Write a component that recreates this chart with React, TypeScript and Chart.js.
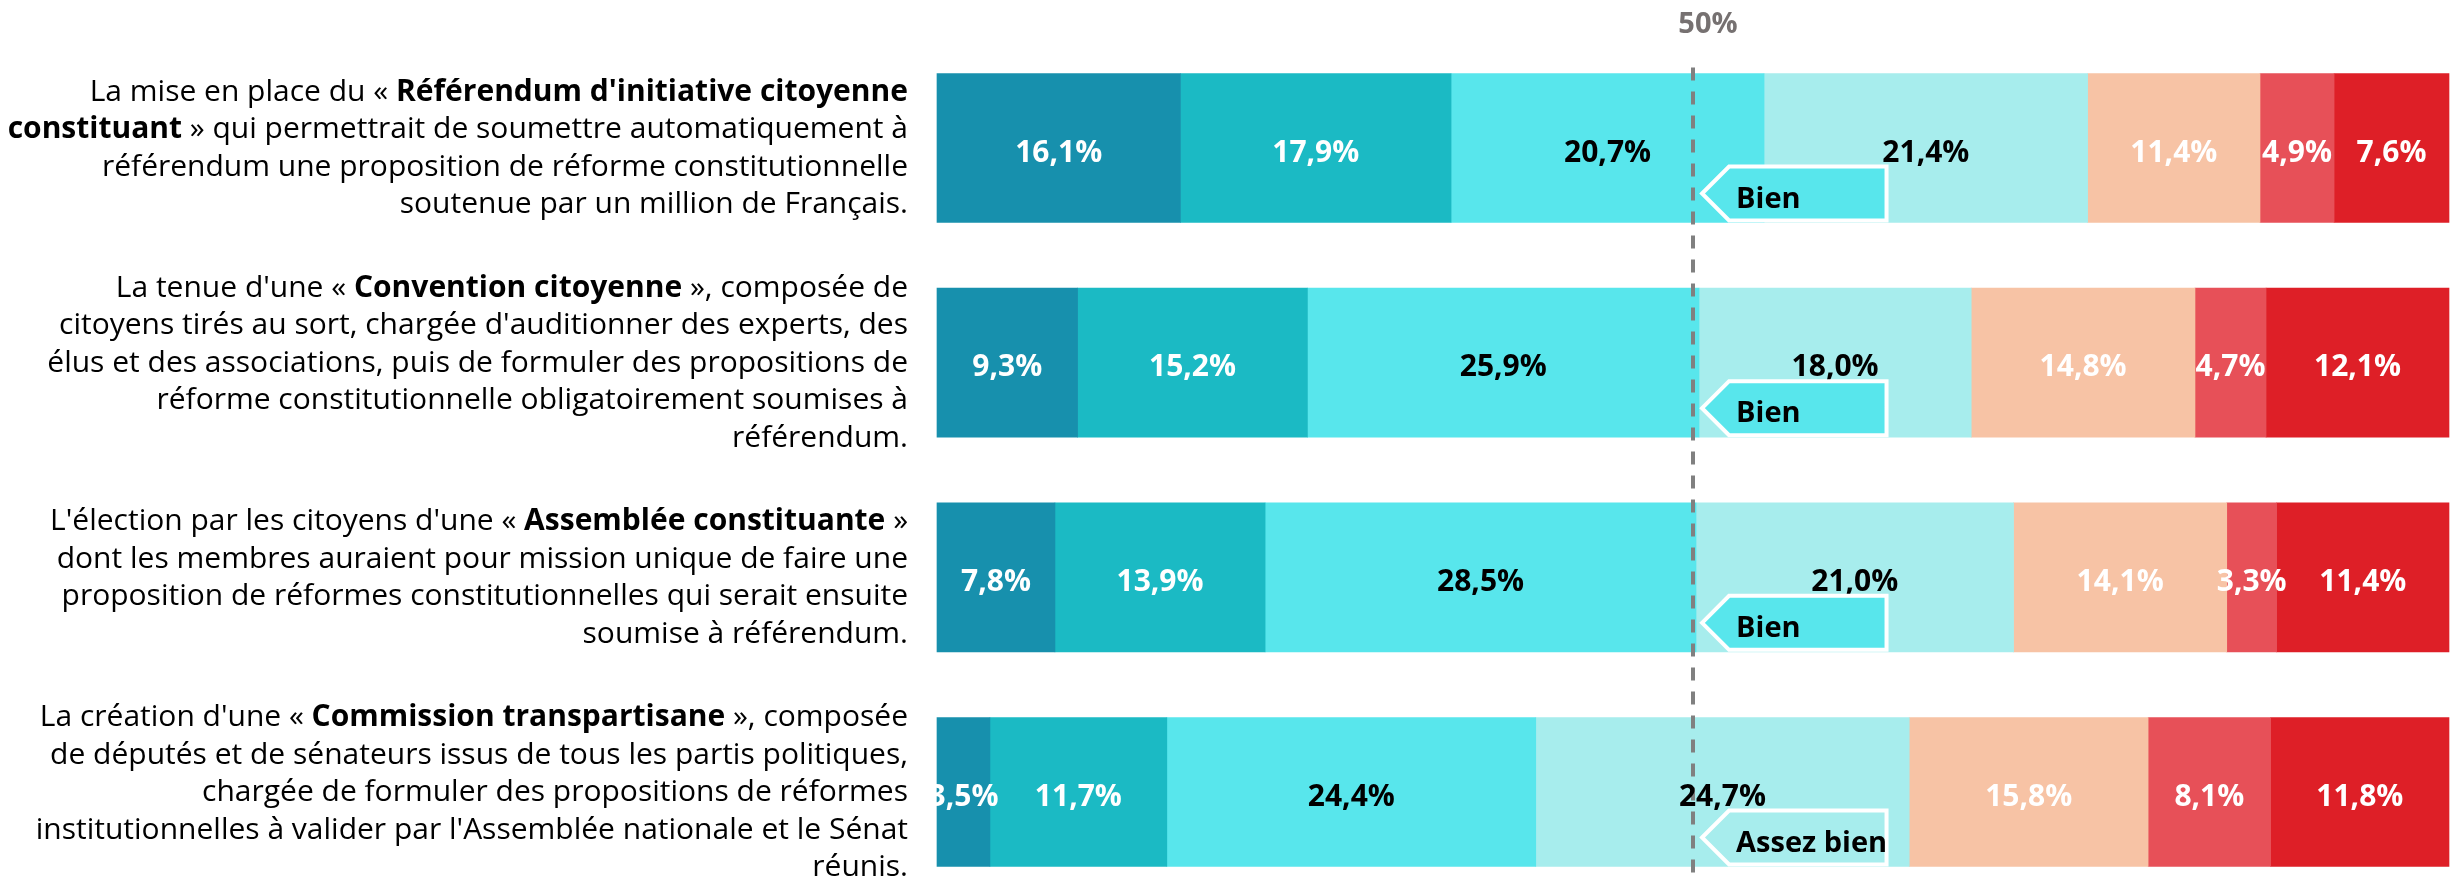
import React, { useEffect, useRef } from "react";
import { Chart, registerables } from "chart.js";

Chart.register(...registerables);

// ---- Data ----
const questionLines: string[][] = [
  [
    "La mise en place du « **Référendum d'initiative citoyenne**",
    "**constituant** » qui permettrait de soumettre automatiquement à",
    "référendum une proposition de réforme constitutionnelle",
    "soutenue par un million de Français.",
  ],
  [
    "La tenue d'une « **Convention citoyenne** », composée de",
    "citoyens tirés au sort, chargée d'auditionner des experts, des",
    "élus et des associations, puis de formuler des propositions de",
    "réforme constitutionnelle obligatoirement soumises à",
    "référendum.",
  ],
  [
    "L'élection par les citoyens d'une « **Assemblée constituante** »",
    "dont les membres auraient pour mission unique de faire une",
    "proposition de réformes constitutionnelles qui serait ensuite",
    "soumise à référendum.",
  ],
  [
    "La création d'une « **Commission transpartisane** », composée",
    "de députés et de sénateurs issus de tous les partis politiques,",
    "chargée de formuler des propositions de réformes",
    "institutionnelles à valider par l'Assemblée nationale et le Sénat",
    "réunis.",
  ],
];
const categories = ["RIC constituant", "Convention citoyenne", "Assemblée constituante", "Commission transpartisane"];

const gradeLabels = ["Excellent", "Très bien", "Bien", "Assez bien", "Passable", "Insuffisant", "À rejeter"];
const excellent = [16.1, 9.3, 7.8, 3.5];
const tresBien = [17.9, 15.2, 13.9, 11.7];
const bien = [20.7, 25.9, 28.5, 24.4];
const assezBien = [21.4, 18.0, 21.0, 24.7];
const passable = [11.4, 14.8, 14.1, 15.8];
const insuffisant = [4.9, 4.7, 3.3, 8.1];
const aRejeter = [7.6, 12.1, 11.4, 11.8];
const medianValue = 50;
const medianLabel = "50%";

// ---- Styles ----
const gradeColors = ["#1790AD", "#1BBAC4", "#58E6EC", "#A7EDED", "#F7C3A5", "#E75058", "#DE1F27"];
const gradeTextColors = ["#FFFFFF", "#FFFFFF", "#000000", "#000000", "#FFFFFF", "#FFFFFF", "#FFFFFF"];
const FONT = '"Open Sans", "Noto Sans", sans-serif';
const BAR_THICKNESS = 149;

const fmt = (v: number) => v.toFixed(1).replace(".", ",") + "%";

const drawPlugin = {
  id: "customDraw",
  afterDatasetsDraw(chart: any) {
    const ctx: CanvasRenderingContext2D = chart.ctx;
    const xs = chart.scales.x;
    const ys = chart.scales.y;
    const half = BAR_THICKNESS / 2;
    const series = chart.data.datasets.map((d: any) => d.data as number[]);

    // dashed 50% line
    const mx = xs.getPixelForValue(medianValue);
    ctx.save();
    ctx.strokeStyle = "#808080";
    ctx.lineWidth = 4;
    ctx.setLineDash([13, 11]);
    ctx.beginPath();
    ctx.moveTo(mx, ys.getPixelForValue(0) - half - 6);
    ctx.lineTo(mx, chart.height);
    ctx.stroke();
    ctx.restore();

    // 50% label
    ctx.save();
    ctx.fillStyle = "#767171";
    ctx.font = `bold 29px ${FONT}`;
    ctx.textAlign = "center";
    ctx.textBaseline = "alphabetic";
    ctx.fillText(medianLabel, mx + 15, 33);
    ctx.restore();

    // value labels
    ctx.save();
    ctx.font = `bold 30px ${FONT}`;
    ctx.textAlign = "center";
    ctx.textBaseline = "alphabetic";
    chart.data.datasets.forEach((ds: any, di: number) => {
      const meta = chart.getDatasetMeta(di);
      meta.data.forEach((el: any, i: number) => {
        const cx = (el.x + el.base) / 2;
        ctx.fillStyle = gradeTextColors[di];
        ctx.fillText(fmt(ds.data[i]), cx, el.y + 13.5);
      });
    });
    ctx.restore();

    // median grade callouts
    categories.forEach((_, i) => {
      let cum = 0;
      let gi = 0;
      for (let g = 0; g < series.length; g++) {
        cum += series[g][i];
        if (cum >= medianValue) { gi = g; break; }
      }
      const yc = ys.getPixelForValue(i);
      const bottom = yc + half - 2;
      const top = bottom - 54;
      const tipX = xs.getPixelForValue(50.6);
      const cornerX = tipX + 27;
      const rightX = xs.getPixelForValue(62.8);
      ctx.save();
      ctx.beginPath();
      ctx.moveTo(tipX, (top + bottom) / 2);
      ctx.lineTo(cornerX, top);
      ctx.lineTo(rightX, top);
      ctx.lineTo(rightX, bottom);
      ctx.lineTo(cornerX, bottom);
      ctx.closePath();
      ctx.fillStyle = gradeColors[gi];
      ctx.fill();
      ctx.strokeStyle = "#FFFFFF";
      ctx.lineWidth = 4;
      ctx.lineJoin = "miter";
      ctx.stroke();
      ctx.fillStyle = "#000000";
      ctx.font = `bold 29px ${FONT}`;
      ctx.textAlign = "left";
      ctx.textBaseline = "alphabetic";
      ctx.fillText(gradeLabels[gi], cornerX + 7, bottom - 13);
      ctx.restore();
    });

    // question labels (left)
    const rightEdge = xs.left - 29;
    const lineH = 37.5;
    const fontPx = 30;
    ctx.save();
    ctx.fillStyle = "#000000";
    ctx.textBaseline = "alphabetic";
    ctx.textAlign = "left";
    questionLines.forEach((lines, i) => {
      const yc = ys.getPixelForValue(i);
      lines.forEach((line, li) => {
        const parts = line.split("**");
        let total = 0;
        const widths = parts.map((p, pi) => {
          ctx.font = `${pi % 2 === 1 ? "bold " : ""}${fontPx}px ${FONT}`;
          const w = ctx.measureText(p).width;
          total += w;
          return w;
        });
        const base = yc + (li - (lines.length - 1) / 2) * lineH + 9;
        let x = rightEdge - total;
        parts.forEach((p, pi) => {
          ctx.font = `${pi % 2 === 1 ? "bold " : ""}${fontPx}px ${FONT}`;
          ctx.fillText(p, x, base);
          x += widths[pi];
        });
      });
    });
    ctx.restore();
  },
};

export default function App() {
  const ref = useRef<HTMLCanvasElement>(null);
  useEffect(() => {
    if (!ref.current) return;
    const seriesList = [excellent, tresBien, bien, assezBien, passable, insuffisant, aRejeter];
    const chart = new Chart(ref.current, {
      type: "bar",
      data: {
        labels: categories,
        datasets: seriesList.map((data, i) => ({
          label: gradeLabels[i],
          data,
          backgroundColor: gradeColors[i],
          borderWidth: 0,
          barThickness: BAR_THICKNESS,
          clip: false,
        })),
      },
      options: {
        indexAxis: "y",
        responsive: false,
        animation: false,
        layout: { padding: { left: 937, right: 12, top: 148, bottom: 91 } },
        plugins: { legend: { display: false }, tooltip: { enabled: false } },
        scales: {
          x: { stacked: true, min: 0, max: 100, display: false },
          y: { stacked: true, display: false, offset: false },
        },
      },
      plugins: [drawPlugin],
    } as any);
    return () => chart.destroy();
  }, []);
  return (
    <div style={{ position: "absolute", left: 0, top: 0, width: 2461, height: 883, background: "#fff" }}>
      <canvas ref={ref} width={2461} height={883} style={{ width: 2461, height: 883, display: "block" }} />
    </div>
  );
}
